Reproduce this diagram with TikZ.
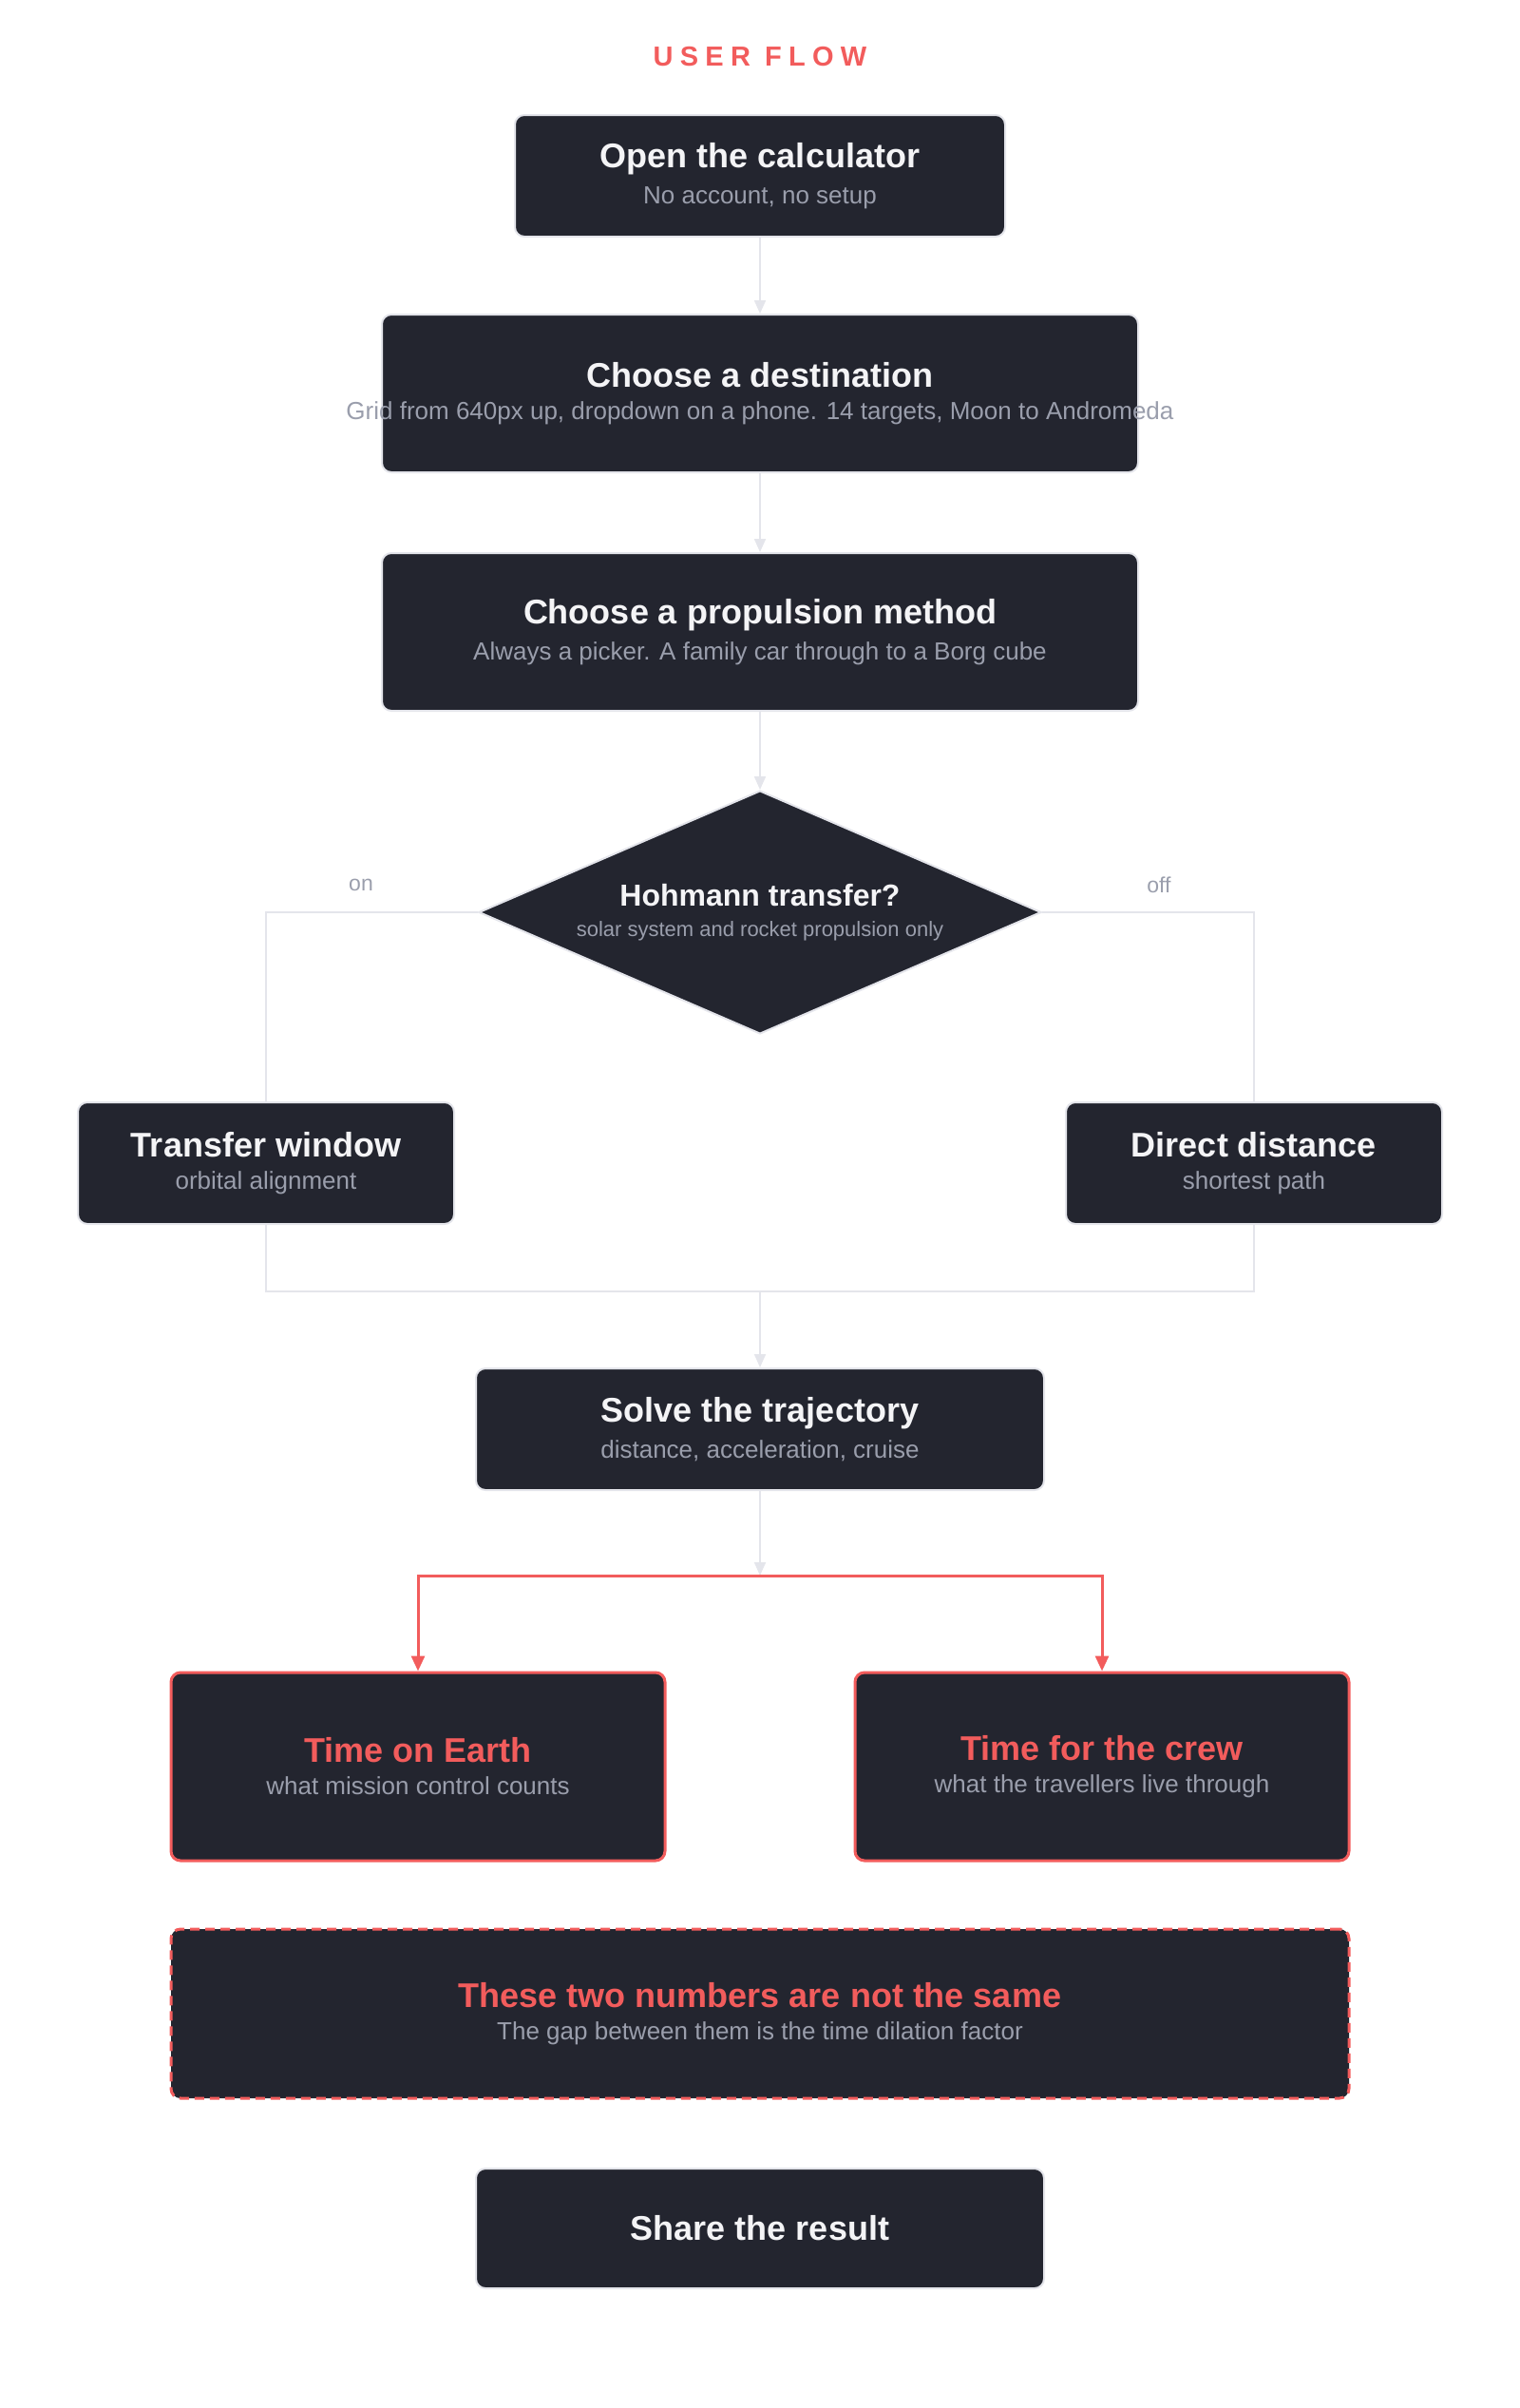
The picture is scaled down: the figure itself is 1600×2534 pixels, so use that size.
\documentclass[tikz,border=0pt]{standalone}
\usepackage{fontspec}
\setmainfont{Liberation Sans}
\usetikzlibrary{arrows.meta, shapes.geometric, positioning}
\definecolor{boxfill}{HTML}{23252F}
\definecolor{boxline}{HTML}{E4E5EB}
\definecolor{subgrey}{HTML}{9A9EAC}
\definecolor{accent}{HTML}{F25C5C}
\definecolor{titlewhite}{HTML}{F4F4F6}
\newcommand{\steptxt}[3]{\makebox[0pt]{\bfseries\fontsize{18}{22}\selectfont\color{#1}#2}\\[5pt]\makebox[0pt]{\fontsize{13}{16}\selectfont\color{subgrey}#3}}

\begin{document}
\begin{tikzpicture}[
    x=0.5pt, y=-0.5pt,
    stap/.style = {rectangle, rounded corners=5pt, draw=boxline, line width=1pt,
                   fill=boxfill, align=center, inner sep=0pt},
    hot/.style = {stap, draw=accent, line width=1.5pt},
    pil/.style = {boxline, line width=1pt, -{Triangle[width=6pt,length=7pt]}},
    lin/.style = {boxline, line width=1pt},
    rpil/.style = {accent, line width=1.5pt, -{Triangle[width=7pt,length=8pt]}},
    ]
  \useasboundingbox (0,0) rectangle (1600,2534);

  \node (head) at (800,60) {\bfseries\fontsize{14.5}{17}\selectfont\addfontfeatures{LetterSpace=25}\color{accent}USER FLOW};

  \node[stap, minimum width=258pt, minimum height=64pt] (open) at (800,185)
    {\steptxt{titlewhite}{Open the calculator}{No account, no setup}};
  \node[stap, minimum width=398pt, minimum height=83pt] (dest) at (800,414)
    {\steptxt{titlewhite}{Choose a destination}{Grid from 640px up, dropdown on a phone. 14 targets, Moon to Andromeda}};
  \node[stap, minimum width=398pt, minimum height=83pt] (prop) at (800,665)
    {\steptxt{titlewhite}{Choose a propulsion method}{Always a picker. A family car through to a Borg cube}};

  \node[diamond, draw=boxline, line width=1pt, fill=boxfill, align=center, inner sep=0pt,
        aspect=2.31, minimum width=296pt, minimum height=128pt] (hoh) at (800,960)
    {\makebox[0pt]{\bfseries\fontsize{16}{19}\selectfont\color{titlewhite}Hohmann transfer?}\\[4pt]%
     \makebox[0pt]{\fontsize{11}{13}\selectfont\color{subgrey}solar system and rocket propulsion only}};
  \node (on) at (380,931) {\fontsize{11.5}{13}\selectfont\color{subgrey}on};
  \node (off) at (1220,931) {\fontsize{11.5}{13}\selectfont\color{subgrey}off};

  \node[stap, minimum width=198pt, minimum height=64pt] (window) at (280,1224)
    {\steptxt{titlewhite}{Transfer window}{orbital alignment}};
  \node[stap, minimum width=198pt, minimum height=64pt] (direct) at (1320,1224)
    {\steptxt{titlewhite}{Direct distance}{shortest path}};

  \coordinate (join) at (800,1359);
  \node[stap, minimum width=299pt, minimum height=64pt] (solve) at (800,1504)
    {\steptxt{titlewhite}{Solve the trajectory}{distance, acceleration, cruise}};
  \coordinate (split) at (800,1658);

  \node[hot, minimum width=260pt, minimum height=99pt] (earth) at (440,1859)
    {\steptxt{accent}{Time on Earth}{what mission control counts}};
  \node[hot, minimum width=260pt, minimum height=99pt] (crew) at (1160,1859)
    {\steptxt{accent}{Time for the crew}{what the travellers live through}};

  \node[hot, dashed, dash pattern=on 5pt off 3pt, minimum width=620pt, minimum height=89pt] (gap) at (800,2119)
    {\steptxt{accent}{These two numbers are not the same}{The gap between them is the time dilation factor}};

  \node[stap, minimum width=299pt, minimum height=63pt] (share) at (800,2345)
    {\makebox[0pt]{\bfseries\fontsize{18}{22}\selectfont\color{titlewhite}Share the result}};

  \draw[pil] (open) -- (dest);
  \draw[pil] (dest) -- (prop);
  \draw[pil] (prop) -- (hoh);
  \draw[lin] (hoh.west) -| (window.north);
  \draw[lin] (hoh.east) -| (direct.north);
  \draw[lin] (window.south) |- (join);
  \draw[lin] (direct.south) |- (join);
  \draw[pil] (join) -- (solve);
  \draw[pil] (solve) -- (split);
  \draw[rpil] (split) -| (earth.north);
  \draw[rpil] (split) -| (crew.north);
\end{tikzpicture}
\end{document}
